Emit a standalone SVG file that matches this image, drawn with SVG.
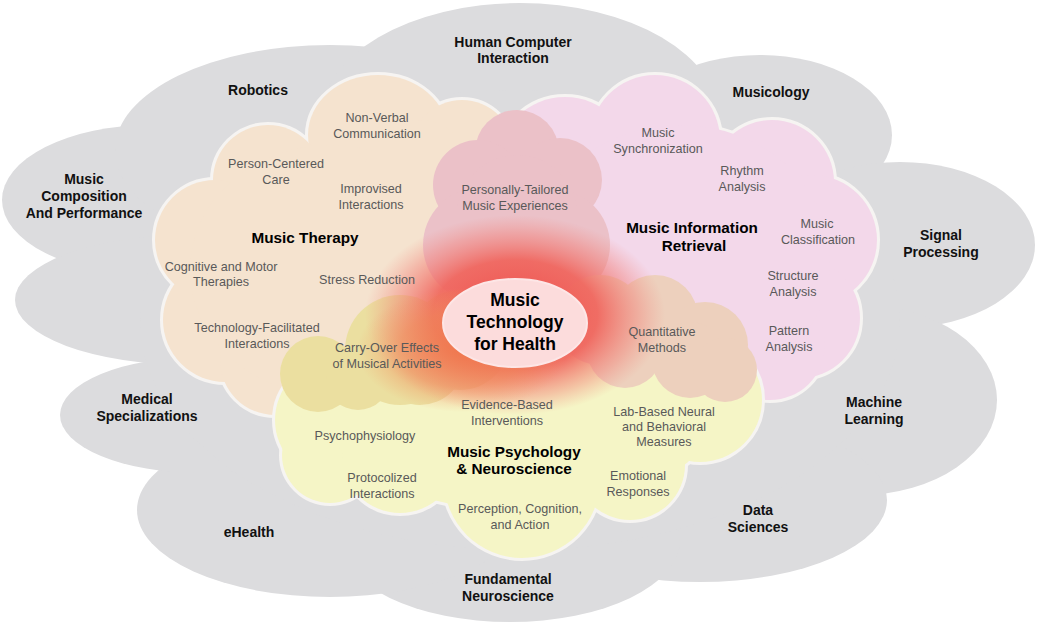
<svg xmlns="http://www.w3.org/2000/svg" xmlns:xlink="http://www.w3.org/1999/xlink" width="1037" height="625" viewBox="0 0 1037 625">
<style>
  .outer { font-family: "Liberation Sans", Arial, sans-serif; font-weight: bold; font-size: 14px; fill: #111; text-anchor: middle; }
  .title { font-family: "Liberation Sans", Arial, sans-serif; font-weight: bold; font-size: 15.3px; fill: #000; text-anchor: middle; }
  .center { font-family: "Liberation Sans", Arial, sans-serif; font-weight: bold; font-size: 17.5px; fill: #000; text-anchor: middle; }
  .sub { font-family: "Liberation Sans", Arial, sans-serif; font-size: 12.6px; fill: #595959; text-anchor: middle; }
  .rim { stroke: #f6f4f2; stroke-width: 6; }
</style>
<defs>
  <g id="shpTherapy">
    <ellipse cx="378" cy="135" rx="70" ry="60"/>
    <circle cx="462" cy="152" r="52"/>
    <circle cx="268" cy="180" r="55"/>
    <circle cx="215" cy="240" r="60"/>
    <circle cx="225" cy="320" r="62"/>
    <circle cx="275" cy="360" r="55"/>
    <ellipse cx="330" cy="270" rx="140" ry="125"/>
    <ellipse cx="420" cy="230" rx="70" ry="110"/>
  </g>
  <g id="shpMIR">
    <circle cx="565" cy="165" r="68"/>
    <circle cx="655" cy="140" r="65"/>
    <circle cx="772" cy="182" r="62"/>
    <circle cx="812" cy="240" r="65"/>
    <circle cx="800" cy="318" r="60"/>
    <circle cx="770" cy="345" r="55"/>
    <ellipse cx="680" cy="260" rx="150" ry="135"/>
  </g>
  <g id="shpPsy">
    <circle cx="335" cy="420" r="60"/>
    <circle cx="330" cy="455" r="48"/>
    <circle cx="400" cy="455" r="58"/>
    <circle cx="522" cy="480" r="78"/>
    <circle cx="630" cy="465" r="55"/>
    <circle cx="700" cy="400" r="62"/>
    <ellipse cx="520" cy="420" rx="190" ry="90"/>
  </g>
  <radialGradient id="glowRed" cx="0.5" cy="0.5" r="0.5">
    <stop offset="0" stop-color="#ee4e4a"/>
    <stop offset="0.55" stop-color="#f0645c" stop-opacity="0.92"/>
    <stop offset="0.82" stop-color="#f27a72" stop-opacity="0.4"/>
    <stop offset="1" stop-color="#f28a80" stop-opacity="0"/>
  </radialGradient>
  <radialGradient id="glowOrange" cx="0.5" cy="0.5" r="0.5">
    <stop offset="0" stop-color="#f07a4e" stop-opacity="0.9"/>
    <stop offset="0.6" stop-color="#f08a58" stop-opacity="0.55"/>
    <stop offset="1" stop-color="#f29a66" stop-opacity="0"/>
  </radialGradient>
</defs>

<g id="background-fields" fill="#dcdcde">
  <ellipse cx="150" cy="200" rx="148" ry="75"/>
  <ellipse cx="330" cy="150" rx="215" ry="105"/>
  <ellipse cx="520" cy="120" rx="200" ry="117"/>
  <ellipse cx="760" cy="135" rx="132" ry="80"/>
  <ellipse cx="900" cy="245" rx="135" ry="83"/>
  <ellipse cx="860" cy="400" rx="137" ry="95"/>
  <ellipse cx="700" cy="500" rx="187" ry="82"/>
  <ellipse cx="510" cy="540" rx="170" ry="82"/>
  <ellipse cx="330" cy="510" rx="193" ry="87"/>
  <ellipse cx="200" cy="415" rx="140" ry="58"/>
  <ellipse cx="190" cy="300" rx="175" ry="65"/>
  <ellipse cx="520" cy="320" rx="380" ry="230"/>
</g>

<g id="node-music-therapy">
  <use xlink:href="#shpTherapy" class="rim" fill="#f6f4f2"/>
  <use xlink:href="#shpTherapy" fill="#f5e3cf"/>
</g>
<g id="node-mir">
  <use xlink:href="#shpMIR" class="rim" fill="#f6f4f2"/>
  <use xlink:href="#shpMIR" fill="#f3d8ea"/>
</g>
<g id="node-psychology">
  <use xlink:href="#shpPsy" class="rim" fill="#f6f4f2"/>
  <use xlink:href="#shpPsy" fill="#f5f5c6"/>
</g>

<g id="node-personally-tailored" fill="#ebc1c8">
  <circle cx="517" cy="152" r="42"/>
  <circle cx="478" cy="185" r="45"/>
  <circle cx="560" cy="180" r="42"/>
  <circle cx="480" cy="245" r="57"/>
  <circle cx="555" cy="245" r="55"/>
  <ellipse cx="517" cy="215" rx="60" ry="60"/>
</g>
<g id="node-carry-over" fill="#ebdfa0">
  <circle cx="400" cy="350" r="55"/>
  <circle cx="318" cy="374" r="38"/>
  <circle cx="358" cy="378" r="32"/>
  <circle cx="420" cy="360" r="45"/>
  <circle cx="460" cy="340" r="50"/>
</g>
<g id="node-quantitative" fill="#edd0bd">
  <circle cx="655" cy="318" r="43"/>
  <circle cx="705" cy="345" r="43"/>
  <circle cx="690" cy="360" r="38"/>
  <circle cx="625" cy="350" r="38"/>
  <circle cx="725" cy="370" r="32"/>
  <circle cx="600" cy="320" r="45"/>
</g>

<g id="node-center">
  <ellipse cx="515" cy="315" rx="150" ry="100" fill="url(#glowRed)"/>
  <ellipse cx="462" cy="350" rx="105" ry="62" fill="url(#glowOrange)"/>
  <ellipse cx="515" cy="323" rx="72" ry="44" fill="#fcdcdc" stroke="#fde6e6" stroke-width="2"/>
  <text class="center" x="515" y="306">Music</text>
  <text class="center" x="515" y="328">Technology</text>
  <text class="center" x="515" y="350">for Health</text>
</g>

<g id="labels-outer">
  <text class="outer" x="513" y="47">Human Computer</text>
  <text class="outer" x="513" y="63">Interaction</text>
  <text class="outer" x="258" y="95">Robotics</text>
  <text class="outer" x="771" y="97">Musicology</text>
  <text class="outer" x="84" y="184">Music</text>
  <text class="outer" x="84" y="201">Composition</text>
  <text class="outer" x="84" y="218">And Performance</text>
  <text class="outer" x="941" y="240">Signal</text>
  <text class="outer" x="941" y="257">Processing</text>
  <text class="outer" x="147" y="404">Medical</text>
  <text class="outer" x="147" y="421">Specializations</text>
  <text class="outer" x="874" y="407">Machine</text>
  <text class="outer" x="874" y="424">Learning</text>
  <text class="outer" x="249" y="537">eHealth</text>
  <text class="outer" x="758" y="515">Data</text>
  <text class="outer" x="758" y="532">Sciences</text>
  <text class="outer" x="508" y="584">Fundamental</text>
  <text class="outer" x="508" y="601">Neuroscience</text>
</g>

<g id="labels-therapy">
  <text class="title" x="305" y="243">Music Therapy</text>
  <text class="sub" x="377" y="122">Non-Verbal</text>
  <text class="sub" x="377" y="138">Communication</text>
  <text class="sub" x="276" y="168">Person-Centered</text>
  <text class="sub" x="276" y="184">Care</text>
  <text class="sub" x="371" y="193">Improvised</text>
  <text class="sub" x="371" y="209">Interactions</text>
  <text class="sub" x="221" y="271">Cognitive and Motor</text>
  <text class="sub" x="221" y="286">Therapies</text>
  <text class="sub" x="367" y="284">Stress Reduction</text>
  <text class="sub" x="257" y="332">Technology-Facilitated</text>
  <text class="sub" x="257" y="348">Interactions</text>
  <text class="sub" x="387" y="352">Carry-Over Effects</text>
  <text class="sub" x="387" y="368">of Musical Activities</text>
  <text class="sub" x="515" y="194">Personally-Tailored</text>
  <text class="sub" x="515" y="210">Music Experiences</text>
</g>

<g id="labels-mir">
  <text class="title" x="692" y="233">Music Information</text>
  <text class="title" x="694" y="251">Retrieval</text>
  <text class="sub" x="658" y="137">Music</text>
  <text class="sub" x="658" y="153">Synchronization</text>
  <text class="sub" x="742" y="175">Rhythm</text>
  <text class="sub" x="742" y="191">Analysis</text>
  <text class="sub" x="817" y="228">Music</text>
  <text class="sub" x="818" y="244">Classification</text>
  <text class="sub" x="793" y="280">Structure</text>
  <text class="sub" x="793" y="296">Analysis</text>
  <text class="sub" x="789" y="335">Pattern</text>
  <text class="sub" x="789" y="351">Analysis</text>
  <text class="sub" x="662" y="336">Quantitative</text>
  <text class="sub" x="662" y="352">Methods</text>
</g>

<g id="labels-psychology">
  <text class="title" x="514" y="457">Music Psychology</text>
  <text class="title" x="514" y="474">&amp; Neuroscience</text>
  <text class="sub" x="507" y="409">Evidence-Based</text>
  <text class="sub" x="507" y="425">Interventions</text>
  <text class="sub" x="365" y="440">Psychophysiology</text>
  <text class="sub" x="382" y="482">Protocolized</text>
  <text class="sub" x="382" y="498">Interactions</text>
  <text class="sub" x="520" y="513">Perception, Cognition,</text>
  <text class="sub" x="520" y="529">and Action</text>
  <text class="sub" x="664" y="416">Lab-Based Neural</text>
  <text class="sub" x="664" y="431">and Behavioral</text>
  <text class="sub" x="664" y="446">Measures</text>
  <text class="sub" x="638" y="480">Emotional</text>
  <text class="sub" x="638" y="496">Responses</text>
</g>
</svg>
